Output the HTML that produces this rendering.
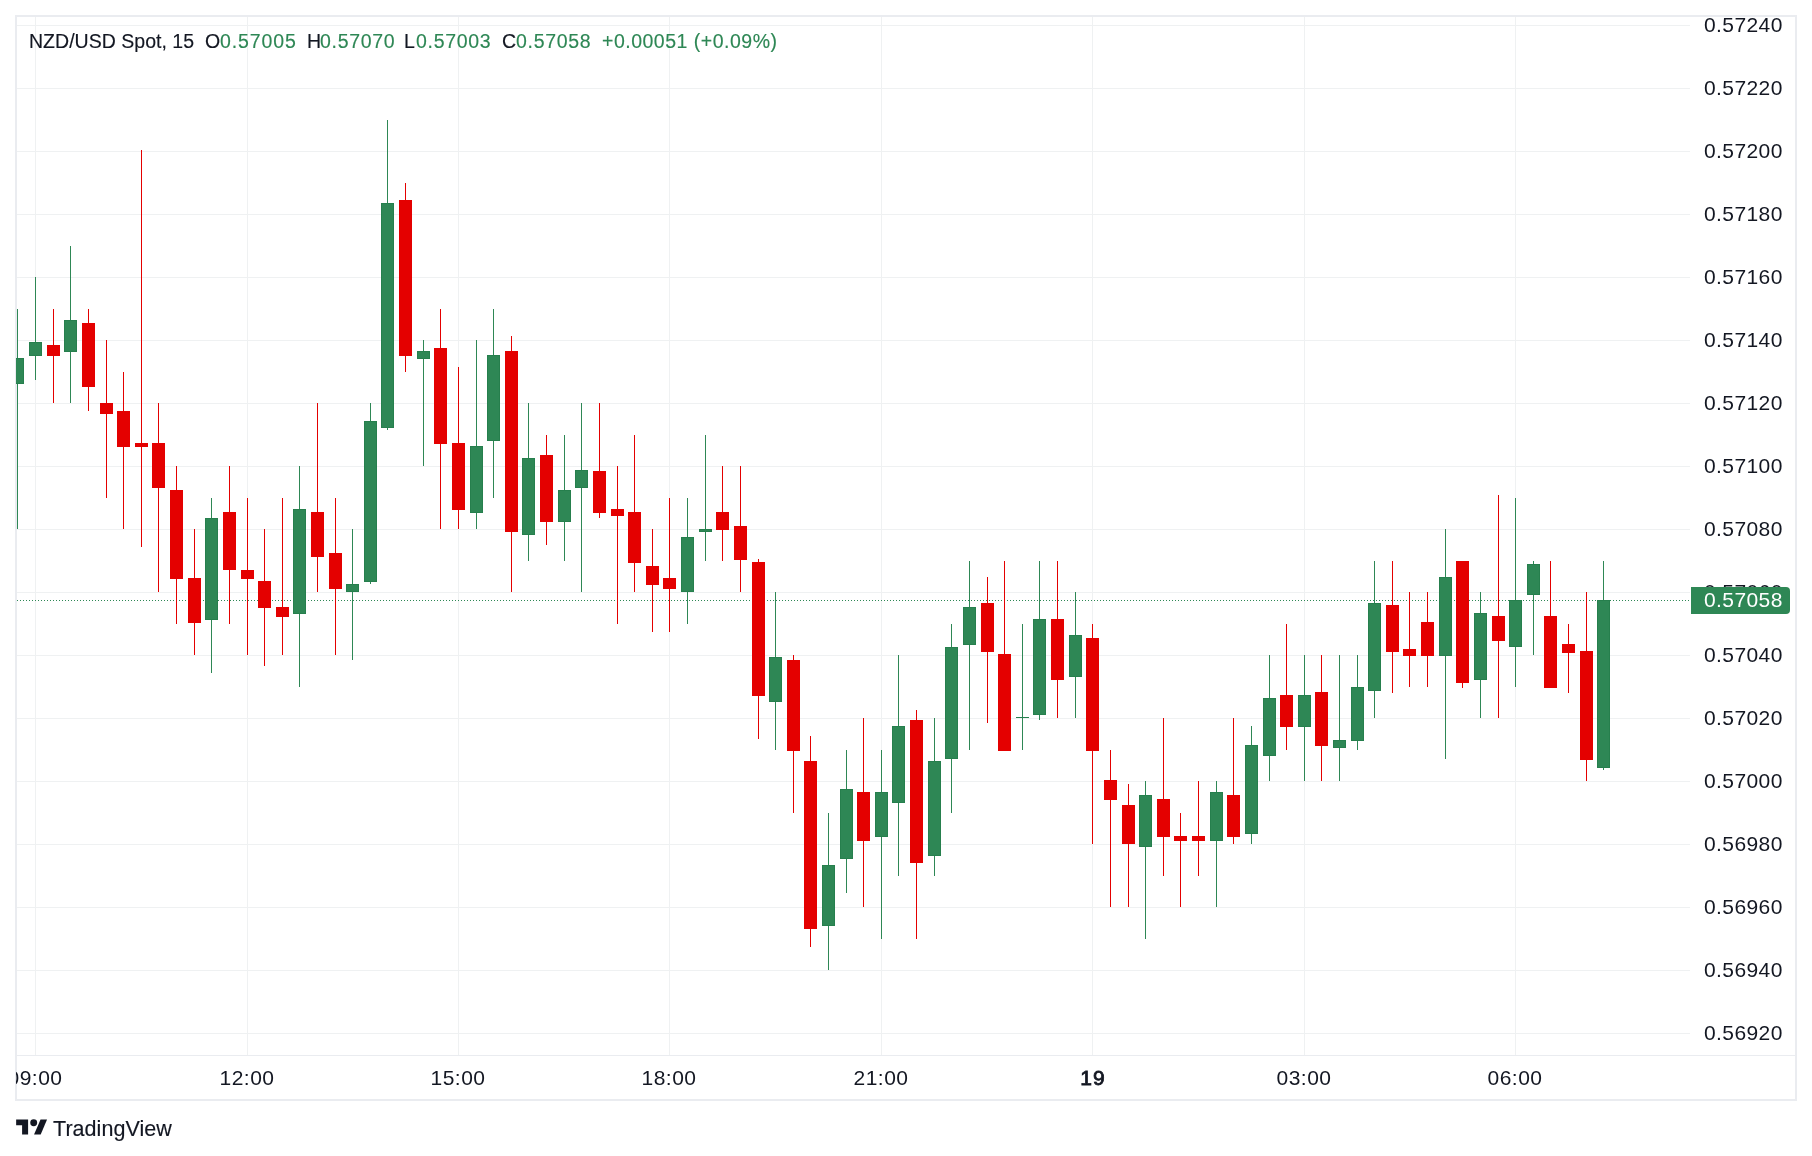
<!DOCTYPE html><html><head><meta charset="utf-8"><style>
html,body{margin:0;padding:0;width:1812px;height:1156px;overflow:hidden;background:#fff;}
#root{position:relative;width:1812px;height:1156px;}
svg{position:absolute;left:0;top:0;}
.t{position:absolute;font-family:"Liberation Sans",sans-serif;color:#131722;white-space:nowrap;line-height:1;-webkit-text-stroke:0.15px currentColor;will-change:transform;}
.ax{-webkit-text-stroke:0;}
.g{color:#2e8755;}

</style></head><body><div id="root">
<svg width="1812" height="1156" viewBox="0 0 1812 1156" shape-rendering="crispEdges">
<rect x="0" y="0" width="1812" height="1156" fill="#ffffff"/>
<rect x="17" y="25" width="1673" height="1" fill="#eff1f2"/>
<rect x="17" y="88" width="1673" height="1" fill="#eff1f2"/>
<rect x="17" y="151" width="1673" height="1" fill="#eff1f2"/>
<rect x="17" y="214" width="1673" height="1" fill="#eff1f2"/>
<rect x="17" y="277" width="1673" height="1" fill="#eff1f2"/>
<rect x="17" y="340" width="1673" height="1" fill="#eff1f2"/>
<rect x="17" y="403" width="1673" height="1" fill="#eff1f2"/>
<rect x="17" y="466" width="1673" height="1" fill="#eff1f2"/>
<rect x="17" y="529" width="1673" height="1" fill="#eff1f2"/>
<rect x="17" y="592" width="1673" height="1" fill="#eff1f2"/>
<rect x="17" y="655" width="1673" height="1" fill="#eff1f2"/>
<rect x="17" y="718" width="1673" height="1" fill="#eff1f2"/>
<rect x="17" y="781" width="1673" height="1" fill="#eff1f2"/>
<rect x="17" y="844" width="1673" height="1" fill="#eff1f2"/>
<rect x="17" y="907" width="1673" height="1" fill="#eff1f2"/>
<rect x="17" y="970" width="1673" height="1" fill="#eff1f2"/>
<rect x="17" y="1033" width="1673" height="1" fill="#eff1f2"/>
<rect x="35" y="17" width="1" height="1038" fill="#eff1f2"/>
<rect x="247" y="17" width="1" height="1038" fill="#eff1f2"/>
<rect x="458" y="17" width="1" height="1038" fill="#eff1f2"/>
<rect x="669" y="17" width="1" height="1038" fill="#eff1f2"/>
<rect x="881" y="17" width="1" height="1038" fill="#eff1f2"/>
<rect x="1092" y="17" width="1" height="1038" fill="#eff1f2"/>
<rect x="1304" y="17" width="1" height="1038" fill="#eff1f2"/>
<rect x="1515" y="17" width="1" height="1038" fill="#eff1f2"/>
<rect x="17" y="1055" width="1778" height="1" fill="#eaecf0"/>
<rect x="15" y="15" width="1782" height="2" fill="#eaecf0"/>
<rect x="15" y="1099" width="1782" height="2" fill="#eaecf0"/>
<rect x="15" y="15" width="2" height="1086" fill="#eaecf0"/>
<rect x="1795" y="15" width="2" height="1086" fill="#eaecf0"/>
<line x1="17" y1="600.5" x2="1691" y2="600.5" stroke="#2e8755" stroke-width="1" stroke-dasharray="1 2"/>
<defs><clipPath id="pane"><rect x="16" y="17" width="1674" height="1038"/></clipPath></defs>
<g clip-path="url(#pane)">
<rect x="17" y="309" width="1" height="220" fill="#2e8755"/>
<rect x="11" y="358" width="13" height="26" fill="#267f4d"/>
<rect x="12" y="359" width="11" height="24" fill="#2e8755"/>
<rect x="35" y="277" width="1" height="103" fill="#2e8755"/>
<rect x="29" y="342" width="13" height="14" fill="#267f4d"/>
<rect x="30" y="343" width="11" height="12" fill="#2e8755"/>
<rect x="53" y="309" width="1" height="94" fill="#e40000"/>
<rect x="47" y="345" width="13" height="11" fill="#e40000"/>
<rect x="70" y="246" width="1" height="157" fill="#2e8755"/>
<rect x="64" y="320" width="13" height="32" fill="#267f4d"/>
<rect x="65" y="321" width="11" height="30" fill="#2e8755"/>
<rect x="88" y="309" width="1" height="102" fill="#e40000"/>
<rect x="82" y="323" width="13" height="64" fill="#e40000"/>
<rect x="106" y="340" width="1" height="158" fill="#e40000"/>
<rect x="100" y="403" width="13" height="11" fill="#e40000"/>
<rect x="123" y="372" width="1" height="157" fill="#e40000"/>
<rect x="117" y="411" width="13" height="36" fill="#e40000"/>
<rect x="141" y="150" width="1" height="397" fill="#e40000"/>
<rect x="135" y="443" width="13" height="4" fill="#e40000"/>
<rect x="158" y="403" width="1" height="189" fill="#e40000"/>
<rect x="152" y="443" width="13" height="45" fill="#e40000"/>
<rect x="176" y="466" width="1" height="158" fill="#e40000"/>
<rect x="170" y="490" width="13" height="89" fill="#e40000"/>
<rect x="194" y="529" width="1" height="126" fill="#e40000"/>
<rect x="188" y="578" width="13" height="45" fill="#e40000"/>
<rect x="211" y="498" width="1" height="175" fill="#2e8755"/>
<rect x="205" y="518" width="13" height="102" fill="#267f4d"/>
<rect x="206" y="519" width="11" height="100" fill="#2e8755"/>
<rect x="229" y="466" width="1" height="158" fill="#e40000"/>
<rect x="223" y="512" width="13" height="58" fill="#e40000"/>
<rect x="247" y="498" width="1" height="157" fill="#e40000"/>
<rect x="241" y="570" width="13" height="9" fill="#e40000"/>
<rect x="264" y="529" width="1" height="137" fill="#e40000"/>
<rect x="258" y="581" width="13" height="27" fill="#e40000"/>
<rect x="282" y="498" width="1" height="157" fill="#e40000"/>
<rect x="276" y="607" width="13" height="10" fill="#e40000"/>
<rect x="299" y="466" width="1" height="221" fill="#2e8755"/>
<rect x="293" y="509" width="13" height="105" fill="#267f4d"/>
<rect x="294" y="510" width="11" height="103" fill="#2e8755"/>
<rect x="317" y="403" width="1" height="189" fill="#e40000"/>
<rect x="311" y="512" width="13" height="45" fill="#e40000"/>
<rect x="335" y="498" width="1" height="157" fill="#e40000"/>
<rect x="329" y="553" width="13" height="36" fill="#e40000"/>
<rect x="352" y="529" width="1" height="131" fill="#2e8755"/>
<rect x="346" y="584" width="13" height="8" fill="#267f4d"/>
<rect x="347" y="585" width="11" height="6" fill="#2e8755"/>
<rect x="370" y="403" width="1" height="181" fill="#2e8755"/>
<rect x="364" y="421" width="13" height="161" fill="#267f4d"/>
<rect x="365" y="422" width="11" height="159" fill="#2e8755"/>
<rect x="387" y="120" width="1" height="310" fill="#2e8755"/>
<rect x="381" y="203" width="13" height="225" fill="#267f4d"/>
<rect x="382" y="204" width="11" height="223" fill="#2e8755"/>
<rect x="405" y="183" width="1" height="189" fill="#e40000"/>
<rect x="399" y="200" width="13" height="156" fill="#e40000"/>
<rect x="423" y="340" width="1" height="126" fill="#2e8755"/>
<rect x="417" y="351" width="13" height="8" fill="#267f4d"/>
<rect x="418" y="352" width="11" height="6" fill="#2e8755"/>
<rect x="440" y="309" width="1" height="220" fill="#e40000"/>
<rect x="434" y="348" width="13" height="96" fill="#e40000"/>
<rect x="458" y="367" width="1" height="162" fill="#e40000"/>
<rect x="452" y="443" width="13" height="67" fill="#e40000"/>
<rect x="476" y="340" width="1" height="189" fill="#2e8755"/>
<rect x="470" y="446" width="13" height="67" fill="#267f4d"/>
<rect x="471" y="447" width="11" height="65" fill="#2e8755"/>
<rect x="493" y="309" width="1" height="189" fill="#2e8755"/>
<rect x="487" y="355" width="13" height="86" fill="#267f4d"/>
<rect x="488" y="356" width="11" height="84" fill="#2e8755"/>
<rect x="511" y="336" width="1" height="256" fill="#e40000"/>
<rect x="505" y="351" width="13" height="181" fill="#e40000"/>
<rect x="528" y="403" width="1" height="158" fill="#2e8755"/>
<rect x="522" y="458" width="13" height="77" fill="#267f4d"/>
<rect x="523" y="459" width="11" height="75" fill="#2e8755"/>
<rect x="546" y="435" width="1" height="110" fill="#e40000"/>
<rect x="540" y="455" width="13" height="67" fill="#e40000"/>
<rect x="564" y="435" width="1" height="126" fill="#2e8755"/>
<rect x="558" y="490" width="13" height="32" fill="#267f4d"/>
<rect x="559" y="491" width="11" height="30" fill="#2e8755"/>
<rect x="581" y="403" width="1" height="189" fill="#2e8755"/>
<rect x="575" y="470" width="13" height="18" fill="#267f4d"/>
<rect x="576" y="471" width="11" height="16" fill="#2e8755"/>
<rect x="599" y="403" width="1" height="115" fill="#e40000"/>
<rect x="593" y="471" width="13" height="42" fill="#e40000"/>
<rect x="617" y="466" width="1" height="158" fill="#e40000"/>
<rect x="611" y="509" width="13" height="7" fill="#e40000"/>
<rect x="634" y="435" width="1" height="157" fill="#e40000"/>
<rect x="628" y="512" width="13" height="51" fill="#e40000"/>
<rect x="652" y="529" width="1" height="103" fill="#e40000"/>
<rect x="646" y="566" width="13" height="19" fill="#e40000"/>
<rect x="669" y="498" width="1" height="134" fill="#e40000"/>
<rect x="663" y="578" width="13" height="11" fill="#e40000"/>
<rect x="687" y="498" width="1" height="126" fill="#2e8755"/>
<rect x="681" y="537" width="13" height="55" fill="#267f4d"/>
<rect x="682" y="538" width="11" height="53" fill="#2e8755"/>
<rect x="705" y="435" width="1" height="126" fill="#2e8755"/>
<rect x="699" y="529" width="13" height="3" fill="#267f4d"/>
<rect x="700" y="530" width="11" height="1" fill="#2e8755"/>
<rect x="722" y="466" width="1" height="95" fill="#e40000"/>
<rect x="716" y="512" width="13" height="18" fill="#e40000"/>
<rect x="740" y="466" width="1" height="126" fill="#e40000"/>
<rect x="734" y="526" width="13" height="34" fill="#e40000"/>
<rect x="758" y="559" width="1" height="180" fill="#e40000"/>
<rect x="752" y="562" width="13" height="134" fill="#e40000"/>
<rect x="775" y="592" width="1" height="158" fill="#2e8755"/>
<rect x="769" y="657" width="13" height="45" fill="#267f4d"/>
<rect x="770" y="658" width="11" height="43" fill="#2e8755"/>
<rect x="793" y="655" width="1" height="158" fill="#e40000"/>
<rect x="787" y="660" width="13" height="91" fill="#e40000"/>
<rect x="810" y="736" width="1" height="211" fill="#e40000"/>
<rect x="804" y="761" width="13" height="168" fill="#e40000"/>
<rect x="828" y="813" width="1" height="157" fill="#2e8755"/>
<rect x="822" y="865" width="13" height="61" fill="#267f4d"/>
<rect x="823" y="866" width="11" height="59" fill="#2e8755"/>
<rect x="846" y="750" width="1" height="143" fill="#2e8755"/>
<rect x="840" y="789" width="13" height="70" fill="#267f4d"/>
<rect x="841" y="790" width="11" height="68" fill="#2e8755"/>
<rect x="863" y="718" width="1" height="189" fill="#e40000"/>
<rect x="857" y="792" width="13" height="49" fill="#e40000"/>
<rect x="881" y="750" width="1" height="189" fill="#2e8755"/>
<rect x="875" y="792" width="13" height="45" fill="#267f4d"/>
<rect x="876" y="793" width="11" height="43" fill="#2e8755"/>
<rect x="898" y="655" width="1" height="221" fill="#2e8755"/>
<rect x="892" y="726" width="13" height="77" fill="#267f4d"/>
<rect x="893" y="727" width="11" height="75" fill="#2e8755"/>
<rect x="916" y="710" width="1" height="229" fill="#e40000"/>
<rect x="910" y="720" width="13" height="143" fill="#e40000"/>
<rect x="934" y="718" width="1" height="158" fill="#2e8755"/>
<rect x="928" y="761" width="13" height="95" fill="#267f4d"/>
<rect x="929" y="762" width="11" height="93" fill="#2e8755"/>
<rect x="951" y="624" width="1" height="189" fill="#2e8755"/>
<rect x="945" y="647" width="13" height="112" fill="#267f4d"/>
<rect x="946" y="648" width="11" height="110" fill="#2e8755"/>
<rect x="969" y="561" width="1" height="189" fill="#2e8755"/>
<rect x="963" y="607" width="13" height="38" fill="#267f4d"/>
<rect x="964" y="608" width="11" height="36" fill="#2e8755"/>
<rect x="987" y="577" width="1" height="146" fill="#e40000"/>
<rect x="981" y="603" width="13" height="49" fill="#e40000"/>
<rect x="1004" y="561" width="1" height="190" fill="#e40000"/>
<rect x="998" y="654" width="13" height="97" fill="#e40000"/>
<rect x="1022" y="624" width="1" height="126" fill="#2e8755"/>
<rect x="1016" y="717" width="13" height="1" fill="#267f4d"/>
<rect x="1039" y="561" width="1" height="159" fill="#2e8755"/>
<rect x="1033" y="619" width="13" height="96" fill="#267f4d"/>
<rect x="1034" y="620" width="11" height="94" fill="#2e8755"/>
<rect x="1057" y="561" width="1" height="157" fill="#e40000"/>
<rect x="1051" y="619" width="13" height="61" fill="#e40000"/>
<rect x="1075" y="592" width="1" height="126" fill="#2e8755"/>
<rect x="1069" y="635" width="13" height="42" fill="#267f4d"/>
<rect x="1070" y="636" width="11" height="40" fill="#2e8755"/>
<rect x="1092" y="624" width="1" height="220" fill="#e40000"/>
<rect x="1086" y="638" width="13" height="113" fill="#e40000"/>
<rect x="1110" y="750" width="1" height="157" fill="#e40000"/>
<rect x="1104" y="780" width="13" height="20" fill="#e40000"/>
<rect x="1128" y="784" width="1" height="123" fill="#e40000"/>
<rect x="1122" y="805" width="13" height="39" fill="#e40000"/>
<rect x="1145" y="781" width="1" height="158" fill="#2e8755"/>
<rect x="1139" y="795" width="13" height="52" fill="#267f4d"/>
<rect x="1140" y="796" width="11" height="50" fill="#2e8755"/>
<rect x="1163" y="718" width="1" height="158" fill="#e40000"/>
<rect x="1157" y="799" width="13" height="38" fill="#e40000"/>
<rect x="1180" y="813" width="1" height="94" fill="#e40000"/>
<rect x="1174" y="836" width="13" height="5" fill="#e40000"/>
<rect x="1198" y="781" width="1" height="95" fill="#e40000"/>
<rect x="1192" y="836" width="13" height="5" fill="#e40000"/>
<rect x="1216" y="781" width="1" height="126" fill="#2e8755"/>
<rect x="1210" y="792" width="13" height="49" fill="#267f4d"/>
<rect x="1211" y="793" width="11" height="47" fill="#2e8755"/>
<rect x="1233" y="718" width="1" height="126" fill="#e40000"/>
<rect x="1227" y="795" width="13" height="42" fill="#e40000"/>
<rect x="1251" y="726" width="1" height="118" fill="#2e8755"/>
<rect x="1245" y="745" width="13" height="89" fill="#267f4d"/>
<rect x="1246" y="746" width="11" height="87" fill="#2e8755"/>
<rect x="1269" y="655" width="1" height="126" fill="#2e8755"/>
<rect x="1263" y="698" width="13" height="58" fill="#267f4d"/>
<rect x="1264" y="699" width="11" height="56" fill="#2e8755"/>
<rect x="1286" y="624" width="1" height="126" fill="#e40000"/>
<rect x="1280" y="695" width="13" height="32" fill="#e40000"/>
<rect x="1304" y="655" width="1" height="126" fill="#2e8755"/>
<rect x="1298" y="695" width="13" height="32" fill="#267f4d"/>
<rect x="1299" y="696" width="11" height="30" fill="#2e8755"/>
<rect x="1321" y="655" width="1" height="126" fill="#e40000"/>
<rect x="1315" y="692" width="13" height="54" fill="#e40000"/>
<rect x="1339" y="655" width="1" height="126" fill="#2e8755"/>
<rect x="1333" y="740" width="13" height="8" fill="#267f4d"/>
<rect x="1334" y="741" width="11" height="6" fill="#2e8755"/>
<rect x="1357" y="655" width="1" height="95" fill="#2e8755"/>
<rect x="1351" y="687" width="13" height="54" fill="#267f4d"/>
<rect x="1352" y="688" width="11" height="52" fill="#2e8755"/>
<rect x="1374" y="561" width="1" height="157" fill="#2e8755"/>
<rect x="1368" y="603" width="13" height="88" fill="#267f4d"/>
<rect x="1369" y="604" width="11" height="86" fill="#2e8755"/>
<rect x="1392" y="561" width="1" height="132" fill="#e40000"/>
<rect x="1386" y="605" width="13" height="47" fill="#e40000"/>
<rect x="1409" y="592" width="1" height="95" fill="#e40000"/>
<rect x="1403" y="649" width="13" height="7" fill="#e40000"/>
<rect x="1427" y="592" width="1" height="95" fill="#e40000"/>
<rect x="1421" y="622" width="13" height="34" fill="#e40000"/>
<rect x="1445" y="529" width="1" height="230" fill="#2e8755"/>
<rect x="1439" y="577" width="13" height="79" fill="#267f4d"/>
<rect x="1440" y="578" width="11" height="77" fill="#2e8755"/>
<rect x="1462" y="561" width="1" height="127" fill="#e40000"/>
<rect x="1456" y="561" width="13" height="122" fill="#e40000"/>
<rect x="1480" y="592" width="1" height="126" fill="#2e8755"/>
<rect x="1474" y="613" width="13" height="67" fill="#267f4d"/>
<rect x="1475" y="614" width="11" height="65" fill="#2e8755"/>
<rect x="1498" y="495" width="1" height="223" fill="#e40000"/>
<rect x="1492" y="616" width="13" height="25" fill="#e40000"/>
<rect x="1515" y="498" width="1" height="189" fill="#2e8755"/>
<rect x="1509" y="600" width="13" height="47" fill="#267f4d"/>
<rect x="1510" y="601" width="11" height="45" fill="#2e8755"/>
<rect x="1533" y="561" width="1" height="94" fill="#2e8755"/>
<rect x="1527" y="564" width="13" height="31" fill="#267f4d"/>
<rect x="1528" y="565" width="11" height="29" fill="#2e8755"/>
<rect x="1550" y="561" width="1" height="127" fill="#e40000"/>
<rect x="1544" y="616" width="13" height="72" fill="#e40000"/>
<rect x="1568" y="624" width="1" height="69" fill="#e40000"/>
<rect x="1562" y="644" width="13" height="9" fill="#e40000"/>
<rect x="1586" y="592" width="1" height="189" fill="#e40000"/>
<rect x="1580" y="651" width="13" height="109" fill="#e40000"/>
<rect x="1603" y="561" width="1" height="209" fill="#2e8755"/>
<rect x="1597" y="600" width="13" height="168" fill="#267f4d"/>
<rect x="1598" y="601" width="11" height="166" fill="#2e8755"/>
</g>
</svg>
<div class="t ax" style="left:1704px;top:14px;font-size:21px;letter-spacing:0.4px">0.57240</div>
<div class="t ax" style="left:1704px;top:77px;font-size:21px;letter-spacing:0.4px">0.57220</div>
<div class="t ax" style="left:1704px;top:140px;font-size:21px;letter-spacing:0.4px">0.57200</div>
<div class="t ax" style="left:1704px;top:203px;font-size:21px;letter-spacing:0.4px">0.57180</div>
<div class="t ax" style="left:1704px;top:266px;font-size:21px;letter-spacing:0.4px">0.57160</div>
<div class="t ax" style="left:1704px;top:329px;font-size:21px;letter-spacing:0.4px">0.57140</div>
<div class="t ax" style="left:1704px;top:392px;font-size:21px;letter-spacing:0.4px">0.57120</div>
<div class="t ax" style="left:1704px;top:455px;font-size:21px;letter-spacing:0.4px">0.57100</div>
<div class="t ax" style="left:1704px;top:518px;font-size:21px;letter-spacing:0.4px">0.57080</div>
<div class="t ax" style="left:1704px;top:581px;font-size:21px;letter-spacing:0.4px">0.57060</div>
<div class="t ax" style="left:1704px;top:644px;font-size:21px;letter-spacing:0.4px">0.57040</div>
<div class="t ax" style="left:1704px;top:707px;font-size:21px;letter-spacing:0.4px">0.57020</div>
<div class="t ax" style="left:1704px;top:770px;font-size:21px;letter-spacing:0.4px">0.57000</div>
<div class="t ax" style="left:1704px;top:833px;font-size:21px;letter-spacing:0.4px">0.56980</div>
<div class="t ax" style="left:1704px;top:896px;font-size:21px;letter-spacing:0.4px">0.56960</div>
<div class="t ax" style="left:1704px;top:959px;font-size:21px;letter-spacing:0.4px">0.56940</div>
<div class="t ax" style="left:1704px;top:1022px;font-size:21px;letter-spacing:0.4px">0.56920</div>
<div style="position:absolute;left:1691px;top:587px;width:99px;height:27px;background:#2e8755;border-radius:0 4px 4px 0;"></div>
<div class="t" style="left:1704px;top:589px;font-size:21px;letter-spacing:0.4px;color:#fff;-webkit-text-stroke:0">0.57058</div>
<div style="position:absolute;left:16px;top:1056px;width:1779px;height:43px;overflow:hidden">
<div class="t ax" style="left:19px;top:10.799999999999955px;width:200px;margin-left:-100px;text-align:center;font-size:21px;letter-spacing:0.45px;">09:00</div>
<div class="t ax" style="left:231px;top:10.799999999999955px;width:200px;margin-left:-100px;text-align:center;font-size:21px;letter-spacing:0.45px;">12:00</div>
<div class="t ax" style="left:442px;top:10.799999999999955px;width:200px;margin-left:-100px;text-align:center;font-size:21px;letter-spacing:0.45px;">15:00</div>
<div class="t ax" style="left:653px;top:10.799999999999955px;width:200px;margin-left:-100px;text-align:center;font-size:21px;letter-spacing:0.45px;">18:00</div>
<div class="t ax" style="left:865px;top:10.799999999999955px;width:200px;margin-left:-100px;text-align:center;font-size:21px;letter-spacing:0.45px;">21:00</div>
<div class="t ax" style="left:1077.0px;top:10.799999999999955px;width:200px;margin-left:-100px;text-align:center;-webkit-text-stroke:0.8px currentColor;font-size:21px;letter-spacing:1.0px;">19</div>
<div class="t ax" style="left:1288px;top:10.799999999999955px;width:200px;margin-left:-100px;text-align:center;font-size:21px;letter-spacing:0.45px;">03:00</div>
<div class="t ax" style="left:1499px;top:10.799999999999955px;width:200px;margin-left:-100px;text-align:center;font-size:21px;letter-spacing:0.45px;">06:00</div>
</div>
<div class="t" style="left:29px;top:32px;font-size:19.5px;letter-spacing:0.02px">NZD/USD Spot, 15</div>
<div class="t" style="left:205px;top:32px;font-size:19.5px;letter-spacing:0px">O</div>
<div class="t g" style="left:220px;top:32px;font-size:19.5px;letter-spacing:0.9px">0.57005</div>
<div class="t" style="left:306.5px;top:32px;font-size:19.5px;letter-spacing:0px">H</div>
<div class="t g" style="left:320px;top:32px;font-size:19.5px;letter-spacing:0.7px">0.57070</div>
<div class="t" style="left:404px;top:32px;font-size:19.5px;letter-spacing:0px">L</div>
<div class="t g" style="left:415.5px;top:32px;font-size:19.5px;letter-spacing:0.7px">0.57003</div>
<div class="t" style="left:502px;top:32px;font-size:19.5px;letter-spacing:0px">C</div>
<div class="t g" style="left:516px;top:32px;font-size:19.5px;letter-spacing:0.7px">0.57058</div>
<div class="t g" style="left:601.5px;top:32px;font-size:19.5px;letter-spacing:0.5px">+0.00051 (+0.09%)</div>
<svg width="60" height="40" style="position:absolute;left:0;top:1100px" viewBox="0 1100 60 40"><g fill="#131722"><path d="M16.15 1119.5H28.1V1134.6H22.1V1125.2H16.15Z"/><circle cx="33.7" cy="1122.8" r="3.45"/><path d="M40.55 1119.5H47.05L40.7 1134.6H34.07Z"/></g></svg>
<div class="t" style="left:53px;top:1119px;font-size:21.5px;letter-spacing:0.05px">TradingView</div>
</div></body></html>
